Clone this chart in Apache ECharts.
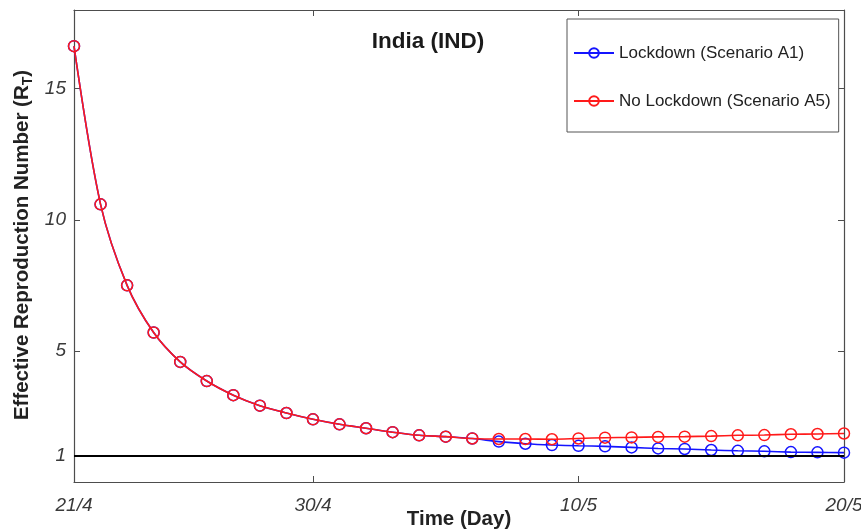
<!DOCTYPE html>
<html>
<head>
<meta charset="utf-8">
<script src="https://cdn.jsdelivr.net/npm/echarts@6/dist/echarts.min.js"></script>
<style>
  html, body { margin: 0; padding: 0; background: #fff; }
  #main { width: 861px; height: 531px; }
</style>
</head>
<body>
<div id="main"></div>
<script>
// days since 21/4
var days = [0, 1, 2, 3, 4, 5, 6, 7, 8, 9, 10, 11, 12, 13, 14, 15, 16, 17, 18, 19, 20, 21, 22, 23, 24, 25, 26, 27, 28, 29];
var xTickValues = [0, 9, 19, 29];
var xTickLabels = ['21/4', '30/4', '10/5', '20/5'];
var yTickValues = [1, 5, 10, 15];

var lockdownA1 = [16.62, 10.59, 7.50, 5.70, 4.58, 3.85, 3.31, 2.91, 2.63, 2.39, 2.20, 2.05, 1.90, 1.78, 1.73, 1.66,
  1.54, 1.46, 1.41, 1.38, 1.36, 1.32, 1.28, 1.26, 1.22, 1.19, 1.17, 1.14, 1.13, 1.12];
var noLockdownA5 = [16.62, 10.59, 7.50, 5.70, 4.58, 3.85, 3.31, 2.91, 2.63, 2.39, 2.20, 2.05, 1.90, 1.78, 1.73, 1.66,
  1.64, 1.64, 1.63, 1.66, 1.69, 1.70, 1.72, 1.73, 1.75, 1.78, 1.79, 1.82, 1.83, 1.85];
var threshold = 1;

function pairs(vals) {
  return days.map(function (d, i) { return [d, vals[i]]; });
}

var chart = echarts.init(document.getElementById('main'));

var axisColor = '#4d4d4d';
var labelStyle = {
  color: '#3a3a3a',
  fontStyle: 'italic',
  fontFamily: 'Liberation Sans',
  fontSize: 19
};

function boxAxis(extra) {
  return Object.assign({
    type: 'value',
    axisLine: { show: true, onZero: false, lineStyle: { color: axisColor, width: 1.2 } },
    splitLine: { show: false }
  }, extra);
}

chart.setOption({
  animation: false,
  backgroundColor: '#fff',
  grid: { left: 74, right: 17, top: 10, bottom: 49, outerBoundsMode: 'none', containLabel: false },
  title: {
    text: 'India (IND)',
    left: 423,
    top: 25,
    textAlign: 'center',
    textStyle: { fontFamily: 'Liberation Sans', fontWeight: 'bold', fontSize: 22.5, color: '#1a1a1a' }
  },
  legend: {
    orient: 'vertical',
    left: 567,
    top: 19,
    padding: [25, 8, 22, 6],
    itemGap: 30,
    itemWidth: 40,
    itemHeight: 12,
    backgroundColor: '#fff',
    borderColor: '#555',
    borderWidth: 1,
    textStyle: { fontFamily: 'Liberation Sans', fontSize: 17, lineHeight: 18, color: '#222' },
    data: ['Lockdown (Scenario A1)', 'No Lockdown (Scenario A5)']
  },
  xAxis: [boxAxis({
    min: 0,
    max: 29,
    name: 'Time (Day)',
    nameLocation: 'middle',
    nameGap: 27,
    nameMoveOverlap: false,
    nameTextStyle: { fontFamily: 'Liberation Sans', fontWeight: 'bold', fontSize: 20.5, color: '#222' },
    axisTick: { inside: true, length: 6, customValues: xTickValues, lineStyle: { color: axisColor } },
    axisLabel: Object.assign({
      customValues: xTickValues,
      margin: 14,
      formatter: function (v) { return xTickLabels[xTickValues.indexOf(v)]; }
    }, labelStyle)
  }), boxAxis({
    position: 'top',
    min: 0,
    max: 29,
    axisTick: { inside: true, length: 6, customValues: xTickValues, lineStyle: { color: axisColor } },
    axisLabel: { show: false }
  })],
  yAxis: [boxAxis({
    min: 0,
    max: 18,
    axisTick: { show: true, inside: true, length: 6, customValues: yTickValues, lineStyle: { color: axisColor } },
    axisLabel: Object.assign({ customValues: yTickValues, margin: 8 }, labelStyle)
  }), boxAxis({
    position: 'right',
    min: 0,
    max: 18,
    axisTick: { show: true, inside: true, length: 6, customValues: yTickValues, lineStyle: { color: axisColor } },
    axisLabel: { show: false }
  })],
  graphic: [{
    type: 'text',
    x: 22,
    y: 245,
    rotation: Math.PI / 2,
    style: {
      text: 'Effective Reproduction Number ({r|R}{s|T})',
      align: 'center',
      verticalAlign: 'middle',
      fontFamily: 'Liberation Sans',
      fontWeight: 'bold',
      fontSize: 20.5,
      fill: '#222',
      rich: {
        r: { fontFamily: 'Liberation Sans', fontWeight: 'bold', fontSize: 20.5, fill: '#222' },
        s: { fontFamily: 'Liberation Sans', fontWeight: 'bold', fontSize: 14, fill: '#222', padding: [12, 0, 0, 0] }
      }
    }
  }],
  series: [{
    name: 'Lockdown (Scenario A1)',
    type: 'line',
    data: pairs(lockdownA1),
    smooth: 0.3,
    symbol: 'circle',
    symbolSize: 11,
    showSymbol: true,
    color: '#1414ff',
    lineStyle: { width: 1.6, color: '#1414ff' },
    itemStyle: { color: 'rgba(0,0,0,0)', borderColor: '#1414ff', borderWidth: 1.5 },
    z: 3,
    markLine: {
      silent: true,
      symbol: 'none',
      label: { show: false },
      lineStyle: { color: '#000', width: 2.2, type: 'solid' },
      data: [{ yAxis: threshold }]
    }
  }, {
    name: 'No Lockdown (Scenario A5)',
    type: 'line',
    data: pairs(noLockdownA5),
    smooth: 0.3,
    symbol: 'circle',
    symbolSize: 11,
    showSymbol: true,
    color: '#ff1a1a',
    lineStyle: { width: 1.6, color: '#ff1a1a' },
    itemStyle: { color: 'rgba(0,0,0,0)', borderColor: '#ff1a1a', borderWidth: 1.5 },
    z: 4
  }]
});
</script>
</body>
</html>
